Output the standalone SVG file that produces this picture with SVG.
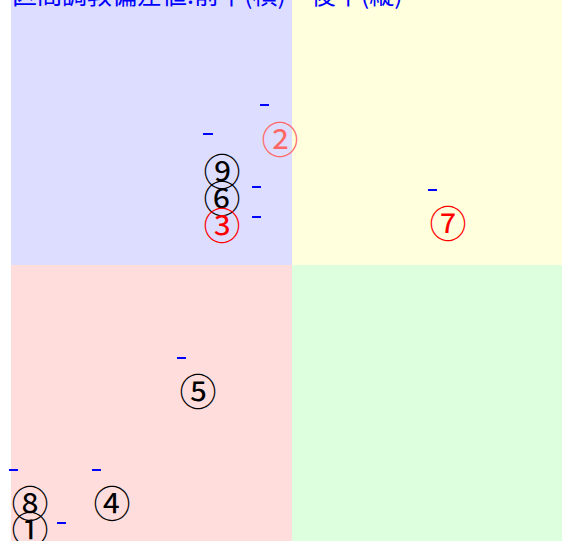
<svg xmlns="http://www.w3.org/2000/svg" width="562" height="541" viewBox="0 0 562 541">
<style>
.num{font-family:"DejaVu Serif","Noto Sans CJK JP",serif;font-size:37px;text-anchor:middle;dominant-baseline:central}
.dash{stroke:#0000ff;stroke-width:1.5;shape-rendering:crispEdges}
.title{font-family:"Noto Sans CJK JP",sans-serif;font-size:25px;fill:#0000ff}
</style>
<rect width="562" height="541" fill="#ffffff"/>
<g id="quadrants">
<rect x="11" y="0" width="281" height="265" fill="#ddddff"/>
<rect x="292" y="0" width="270" height="265" fill="#ffffdd"/>
<rect x="11" y="265" width="281" height="276" fill="#ffdddd"/>
<rect x="292" y="265" width="270" height="276" fill="#ddffdd"/>
</g>
<text id="title" class="title" x="12" y="4">区間調教偏差値:前半(横)　後半(縦)</text>
<g id="connectors">
<line class="dash" x1="260" y1="105" x2="269" y2="105"/>
<line class="dash" x1="203" y1="134" x2="213" y2="134"/>
<line class="dash" x1="252" y1="187" x2="261" y2="187"/>
<line class="dash" x1="252" y1="217" x2="261" y2="217"/>
<line class="dash" x1="428" y1="190" x2="437" y2="190"/>
<line class="dash" x1="177" y1="358" x2="186" y2="358"/>
<line class="dash" x1="9" y1="470" x2="18" y2="470"/>
<line class="dash" x1="92" y1="470" x2="101" y2="470"/>
<line class="dash" x1="57" y1="523" x2="66" y2="523"/>
</g>
<g id="n2"><text class="num" x="280" y="141" fill="#ff6666">②</text></g>
<g id="n9"><text class="num" x="222" y="173" fill="#000000">⑨</text></g>
<g id="n6"><text class="num" x="222" y="200" fill="#000000">⑥</text></g>
<g id="n3"><text class="num" x="222" y="227" fill="#ff0000">③</text></g>
<g id="n7"><text class="num" x="448" y="225" fill="#ff0000">⑦</text></g>
<g id="n5"><text class="num" x="198" y="393" fill="#000000">⑤</text></g>
<g id="n8"><text class="num" x="30" y="505" fill="#000000">⑧</text></g>
<g id="n4"><text class="num" x="112" y="505" fill="#000000">④</text></g>
<g id="n1"><text class="num" x="30" y="531" fill="#000000">①</text></g>
</svg>
